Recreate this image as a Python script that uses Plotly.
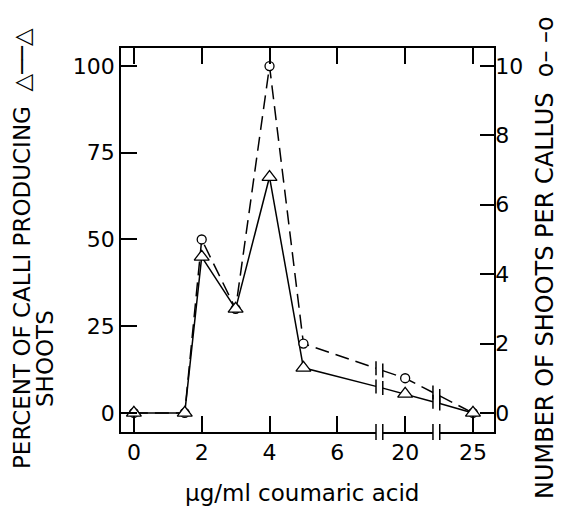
import numpy as np
import plotly.graph_objects as go

# ---- data ----
conc = [0, 1.5, 2, 3, 4, 5, 20, 25]                    # µg/ml coumaric acid
percent_calli = [0, 0, 45, 30, 68, 13, 5.5, 0]         # % of calli producing shoots (left axis)
shoots_per_callus = [0, 0, 5.0, 3.0, 10.0, 2.0, 1.0, 0]  # shoots per callus (right axis)

tick_conc = [0, 2, 4, 6, 20, 25]
tick_labels = ["0", "2", "4", "6", "20", "25"]
left_ticks = [0, 25, 50, 75, 100]
right_ticks = [0, 2, 4, 6, 8, 10]

# ---- layout constants ----
FONT = "DejaVu Sans"
BREAKS = [3.62, 4.46]      # axis-break positions (in tick-index units)
GAP = 0.05
W, H = 568, 512
L, R, T, B = 121, 74, 48, 80
XR = [-0.19, 5.31]
YR = [-5.5, 105.2]
RATIO = right_ticks[-1] / left_ticks[-1]
Y2R = [YR[0] * RATIO, YR[1] * RATIO]

tick_pos = np.arange(len(tick_conc), dtype=float)


def to_pos(c):
    return np.interp(c, tick_conc, tick_pos)


xp = [float(v) for v in to_pos(conc)]


def with_breaks(x, y):
    ox, oy = [x[0]], [y[0]]
    for i in range(1, len(x)):
        for b in BREAKS:
            if x[i - 1] < b < x[i]:
                for side in (b - GAP, None, b + GAP):
                    if side is None:
                        ox.append(None)
                        oy.append(None)
                    else:
                        ox.append(side)
                        oy.append(float(np.interp(side, [x[i - 1], x[i]], [y[i - 1], y[i]])))
        ox.append(x[i])
        oy.append(y[i])
    return ox, oy


fig = go.Figure()

sx, sy = with_breaks(xp, percent_calli)
fig.add_trace(go.Scatter(x=sx, y=sy, mode="lines", yaxis="y",
                         line=dict(color="black", width=1.5), showlegend=False, hoverinfo="skip"))
dx, dy = with_breaks(xp, shoots_per_callus)
fig.add_trace(go.Scatter(x=dx, y=dy, mode="lines", yaxis="y2",
                         line=dict(color="black", width=1.5, dash="14px,7px"),
                         showlegend=False, hoverinfo="skip"))
fig.add_trace(go.Scatter(x=xp, y=shoots_per_callus, mode="markers", yaxis="y2",
                         marker=dict(symbol="circle", size=9, color="white",
                                     line=dict(color="black", width=1.3)),
                         showlegend=False))
fig.add_trace(go.Scatter(x=xp, y=[v * RATIO for v in percent_calli], mode="markers", yaxis="y2",
                         marker=dict(symbol="triangle-up", size=13, color="white",
                                     line=dict(color="black", width=1.3)),
                         showlegend=False))

shapes = []
# break marks on the data lines
for series, yref in ((percent_calli, "y"), (shoots_per_callus, "y2")):
    for b in BREAKS:
        for side in (b - GAP, b + GAP):
            yv = float(np.interp(side, xp, series))
            shapes.append(dict(type="line", xref="x", yref=yref, x0=side, x1=side,
                               ysizemode="pixel", yanchor=yv, y0=-7, y1=7,
                               line=dict(color="black", width=1.5), layer="above"))
# break marks on the x axis
for b in BREAKS:
    shapes.append(dict(type="rect", xref="x", yref="paper", x0=b - GAP, x1=b + GAP,
                       ysizemode="pixel", yanchor=0, y0=-3, y1=3,
                       fillcolor="white", line=dict(width=0), layer="above"))
    for side in (b - GAP, b + GAP):
        shapes.append(dict(type="line", xref="x", yref="paper", x0=side, x1=side,
                           ysizemode="pixel", yanchor=0, y0=-8, y1=8,
                           line=dict(color="black", width=1.5), layer="above"))

pw, ph = W - L - R, H - T - B


def px(xpix):
    return (xpix - L) / pw


def py(ypix):
    return (H - B - ypix) / ph


annotations = [
    dict(text="PERCENT OF CALLI PRODUCING  △──△", textangle=-90, xref="paper", yref="paper",
         x=px(22), y=py(249), xanchor="center", yanchor="middle", showarrow=False,
         font=dict(family=FONT, size=23, color="black")),
    dict(text="SHOOTS", textangle=-90, xref="paper", yref="paper",
         x=px(45), y=py(359), xanchor="center", yanchor="middle", showarrow=False,
         font=dict(family=FONT, size=23, color="black")),
    dict(text="NUMBER OF SHOOTS PER CALLUS  o– –o", textangle=-90, xref="paper", yref="paper",
         x=px(545), y=py(258), xanchor="center", yanchor="middle", showarrow=False,
         font=dict(family=FONT, size=24, color="black")),
    dict(text="µg/ml coumaric acid", xref="paper", yref="paper",
         x=px(302), y=py(493), xanchor="center", yanchor="middle", showarrow=False,
         font=dict(family=FONT, size=23, color="black")),
]

fig.update_layout(
    width=W, height=H, margin=dict(l=L, r=R, t=T, b=B, pad=0),
    paper_bgcolor="white", plot_bgcolor="white",
    font=dict(family=FONT, size=22, color="black"),
    shapes=shapes, annotations=annotations, showlegend=False,
    xaxis=dict(range=XR, tickmode="array", tickvals=list(tick_pos), ticktext=tick_labels,
               ticks="inside", ticklen=16, tickwidth=1.5, tickcolor="black",
               showline=True, linecolor="black", linewidth=1.5, mirror="ticks",
               showgrid=False, zeroline=False, tickfont=dict(size=22)),
    yaxis=dict(range=YR, tickmode="array", tickvals=left_ticks,
               ticks="inside", ticklen=16, tickwidth=1.5, tickcolor="black",
               showline=True, linecolor="black", linewidth=1.5,
               showgrid=False, zeroline=False, tickfont=dict(size=22)),
    yaxis2=dict(range=Y2R, tickmode="array", tickvals=right_ticks, overlaying="y", side="right",
                ticks="inside", ticklen=14, tickwidth=1.5, tickcolor="black",
                showline=True, linecolor="black", linewidth=1.5, ticklabelstandoff=-5,
                showgrid=False, zeroline=False, tickfont=dict(size=22)),
)

fig.write_html("out.html", config={"displayModeBar": False},
               post_script="document.body.style.margin='0px';")
